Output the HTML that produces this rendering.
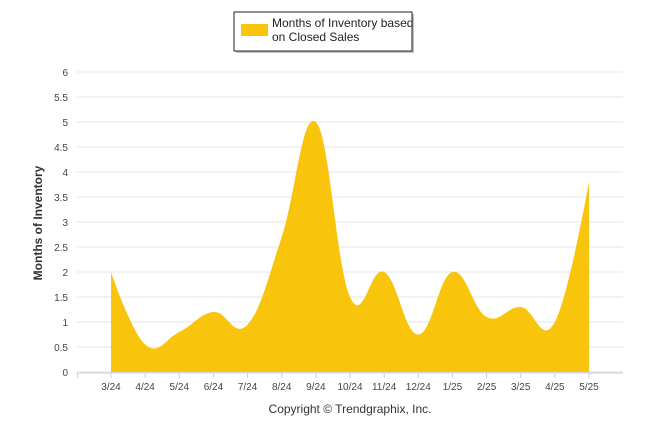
<!DOCTYPE html>
<html><head><meta charset="utf-8"><style>
body{margin:0;background:#fff;font-family:"Liberation Sans",sans-serif}
svg text{font-family:"Liberation Sans",sans-serif}
</style></head><body>
<svg width="646" height="434">
<g id="grid"></g>
<path id="area" fill="#F8C40C"></path>
<g id="xaxis"></g><g id="yaxis"></g>
<text x="42" y="223" transform="rotate(-90 42 223)" text-anchor="middle" font-size="12" font-weight="bold" fill="#333">Months of Inventory</text>
<g>
<rect x="236" y="14" width="178" height="39" fill="#888" opacity="0.5"/>
<rect x="234" y="12" width="178" height="39" fill="#fff" stroke="#222" stroke-width="1"/>
<rect x="241" y="24" width="27" height="12" fill="#F8C40C"/>
<text x="272" y="27" font-size="12" fill="#222">Months of Inventory based</text>
<text x="272" y="41" font-size="12" fill="#222">on Closed Sales</text>
</g>
<text x="350" y="413" text-anchor="middle" font-size="12" fill="#333">Copyright © Trendgraphix, Inc.</text>
</svg>
<script>
const categories=["3/24","4/24","5/24","6/24","7/24","8/24","9/24","10/24","11/24","12/24","1/25","2/25","3/25","4/25","5/25"];
const values=[2.0,0.55,0.8,1.2,0.95,2.7,5.0,1.5,2.0,0.75,2.0,1.1,1.3,1.0,3.8];
const yTicks=[0,0.5,1,1.5,2,2.5,3,3.5,4,4.5,5,5.5,6];
const NS="http://www.w3.org/2000/svg";
const x=i=>111+i*(589-111)/(categories.length-1);
const y=v=>372-v*50;
const g=document.getElementById('grid'),ya=document.getElementById('yaxis'),xa=document.getElementById('xaxis');
function mk(t,a,p){const e=document.createElementNS(NS,t);for(const k in a)e.setAttribute(k,a[k]);p.appendChild(e);return e;}
yTicks.forEach(v=>{
 const l=mk('line',{x1:77,x2:623,y1:y(v),y2:y(v),stroke:'#e6e6e6'},g);
 
 
 const t=mk('text',{x:68,y:y(v)+4,'text-anchor':'end','font-size':10,fill:'#444'},ya);
 t.textContent=v;
 
 
});
mk('line',{x1:77,x2:623,y1:373,y2:373,stroke:'#ccd'},xa);
mk('line',{x1:77.5,x2:77.5,y1:373,y2:378,stroke:'#ccd'},xa);
categories.forEach((c,i)=>{
 mk('line',{x1:x(i),x2:x(i),y1:373,y2:378,stroke:'#ccd'},xa);
 const t=mk('text',{x:x(i),y:390,'text-anchor':'middle','font-size':10,fill:'#444'},xa);
 t.textContent=c;
 
 
});
const P=values.map((v,i)=>[x(i),y(v)]);
const s=1.5,den=s+1;
function ctrl(i){
 const p=P[i],a=P[i-1],b=P[i+1];
 if(!a||!b)return[p,p];
 let lx=(s*p[0]+a[0])/den,ly=(s*p[1]+a[1])/den,rx=(s*p[0]+b[0])/den,ry=(s*p[1]+b[1])/den;
 let corr=0;
 if(rx!==lx)corr=((ry-ly)*(rx-p[0]))/(rx-lx)+p[1]-ry;
 ly+=corr;ry+=corr;
 return[[lx,ly],[rx,ry]];
}
let d=`M${P[0][0]},372 L${P[0][0]},${P[0][1]}`;
for(let i=1;i<P.length;i++){
 const c1=ctrl(i-1)[1],c2=ctrl(i)[0];
 d+=` C${c1[0]},${c1[1]} ${c2[0]},${c2[1]} ${P[i][0]},${P[i][1]}`;
}
d+=` L${P[P.length-1][0]},372 Z`;
document.getElementById('area').setAttribute('d',d);
</script>
</body></html>
